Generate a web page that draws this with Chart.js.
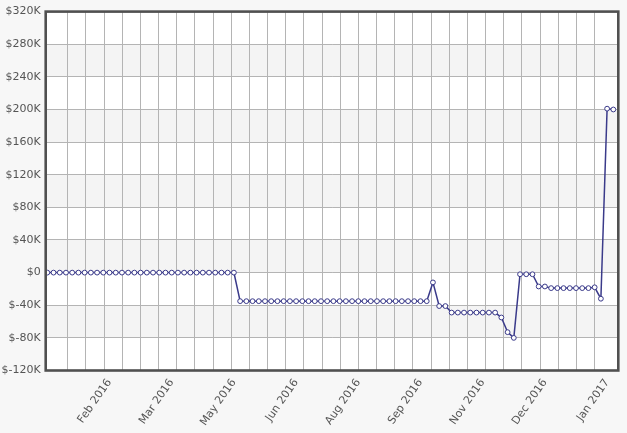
<!DOCTYPE html>
<html>
<head>
<meta charset="utf-8">
<script src="https://cdn.jsdelivr.net/npm/chart.js@4.4.1/dist/chart.umd.min.js"></script>
<style>
  html, body { margin: 0; padding: 0; background: #f7f7f7; }
  canvas { display: block; }
</style>
</head>
<body>
<canvas id="bal" width="627" height="433"></canvas>
<script>
// tick labels shown on the x axis and the point index they sit on
const xLabels = ['Feb 2016', 'Mar 2016', 'May 2016', 'Jun 2016', 'Aug 2016', 'Sep 2016', 'Nov 2016', 'Dec 2016', 'Jan 2017'];
const xLabelIndex = [10, 20, 30, 40, 50, 60, 70, 80, 90];

// balance per sample (92 samples)
const balance = [
  0, 0, 0, 0, 0, 0, 0, 0, 0, 0,
  0, 0, 0, 0, 0, 0, 0, 0, 0, 0,
  0, 0, 0, 0, 0, 0, 0, 0, 0, 0,
  0, -35000, -35000, -35000, -35000, -35000, -35000, -35000, -35000, -35000,
  -35000, -35000, -35000, -35000, -35000, -35000, -35000, -35000, -35000, -35000,
  -35000, -35000, -35000, -35000, -35000, -35000, -35000, -35000, -35000, -35000,
  -35000, -35000, -12000, -41000, -41000, -49000, -49000, -49000, -49000, -49000,
  -49000, -49000, -49000, -55000, -73000, -80000, -2000, -2000, -2000, -17000,
  -17000, -19000, -19000, -19000, -19000, -19000, -19000, -19000, -18000, -32000,
  201000, 200000
];

// y axis range
const yMin = -120000, yMax = 320000, yStep = 40000;

var points = balance.map((v, i) => ({ x: i, y: v }))

// alternating grey bands behind the grid
const bands = {
  id: 'bands',
  beforeDraw(chart) {
    const { ctx, chartArea: a, scales: { y } } = chart
    ctx.save()
    ctx.fillStyle = '#ffffff'
    ctx.fillRect(a.left, a.top, a.right - a.left, a.bottom - a.top)
    ctx.fillStyle = '#f4f4f4'
    const t = y.ticks
    for (let k = 0; k < t.length - 1; k++) {
      if (k % 2 == 1) {
        const y0 = y.getPixelForValue(t[k].value)
        const y1 = y.getPixelForValue(t[k + 1].value)
        ctx.fillRect(a.left, y1, a.right - a.left, y0 - y1)
      }
    }
    ctx.restore()
  }
}

// thick dark frame round the plot
const frame = {
  id: 'frame',
  afterDraw(chart) {
    const { ctx, chartArea: a } = chart
    ctx.save()
    ctx.strokeStyle = '#505050'
    ctx.lineWidth = 2.6
    ctx.strokeRect(a.left, a.top, a.right - a.left, a.bottom - a.top)
    ctx.restore()
  }
}

const ctx = document.getElementById('bal').getContext('2d');
const balChart = new Chart(ctx, {
  type: 'line',
  data: {
    datasets: [{
      label: 'balance',
      data: points,
      borderColor: '#3a3a8a',
      borderWidth: 1.5,
      pointRadius: 2.4,
      pointBorderWidth: 1,
      pointBackgroundColor: '#ffffff',
      pointBorderColor: '#3a3a8a',
      tension: 0,
      fill: false
    }]
  },
  options: {
    responsive: false,
    animation: false,
    layout: { padding: { top: 9.5, right: 8.7, left: 0, bottom: 0 } },
    plugins: {
      legend: { display: false },
      tooltip: { enabled: false }
    },
    scales: {
      x: {
        type: 'linear',
        min: -0.26,
        max: 91.8,
        afterBuildTicks: function (scale) {
          var ticks = []
          for (let k = 0; k < 30; k++) ticks.push({ value: 3.28 + k * 2.921 })
          for (const v of xLabelIndex) ticks.push({ value: v })
          ticks.sort((a, b) => a.value - b.value)
          scale.ticks = ticks
        },
        afterFit: function (scale) { scale.height = 62.5 },
        border: { display: false },
        grid: {
          drawTicks: false,
          lineWidth: 1,
          color: (c) => (c.tick && xLabelIndex.includes(c.tick.value)) ? 'rgba(0,0,0,0)' : '#b4b4b4'
        },
        ticks: {
          autoSkip: false,
          minRotation: 55,
          maxRotation: 55,
          padding: 6,
          color: '#555555',
          font: { family: 'DejaVu Sans', size: 11 },
          callback: function (value) {
            const i = xLabelIndex.indexOf(value)
            return i >= 0 ? xLabels[i] : ''
          }
        }
      },
      y: {
        min: yMin,
        max: yMax,
        afterFit: function (scale) { scale.width = 45.7 },
        border: { display: false },
        grid: { drawTicks: false, color: '#b4b4b4', lineWidth: 1 },
        ticks: {
          stepSize: yStep,
          padding: 5,
          color: '#555555',
          font: { family: 'DejaVu Sans', size: 11 },
          callback: (v) => '$' + (v === 0 ? '0' : (v / 1000) + 'K')
        }
      }
    }
  },
  plugins: [bands, frame]
});
</script>
</body>
</html>
